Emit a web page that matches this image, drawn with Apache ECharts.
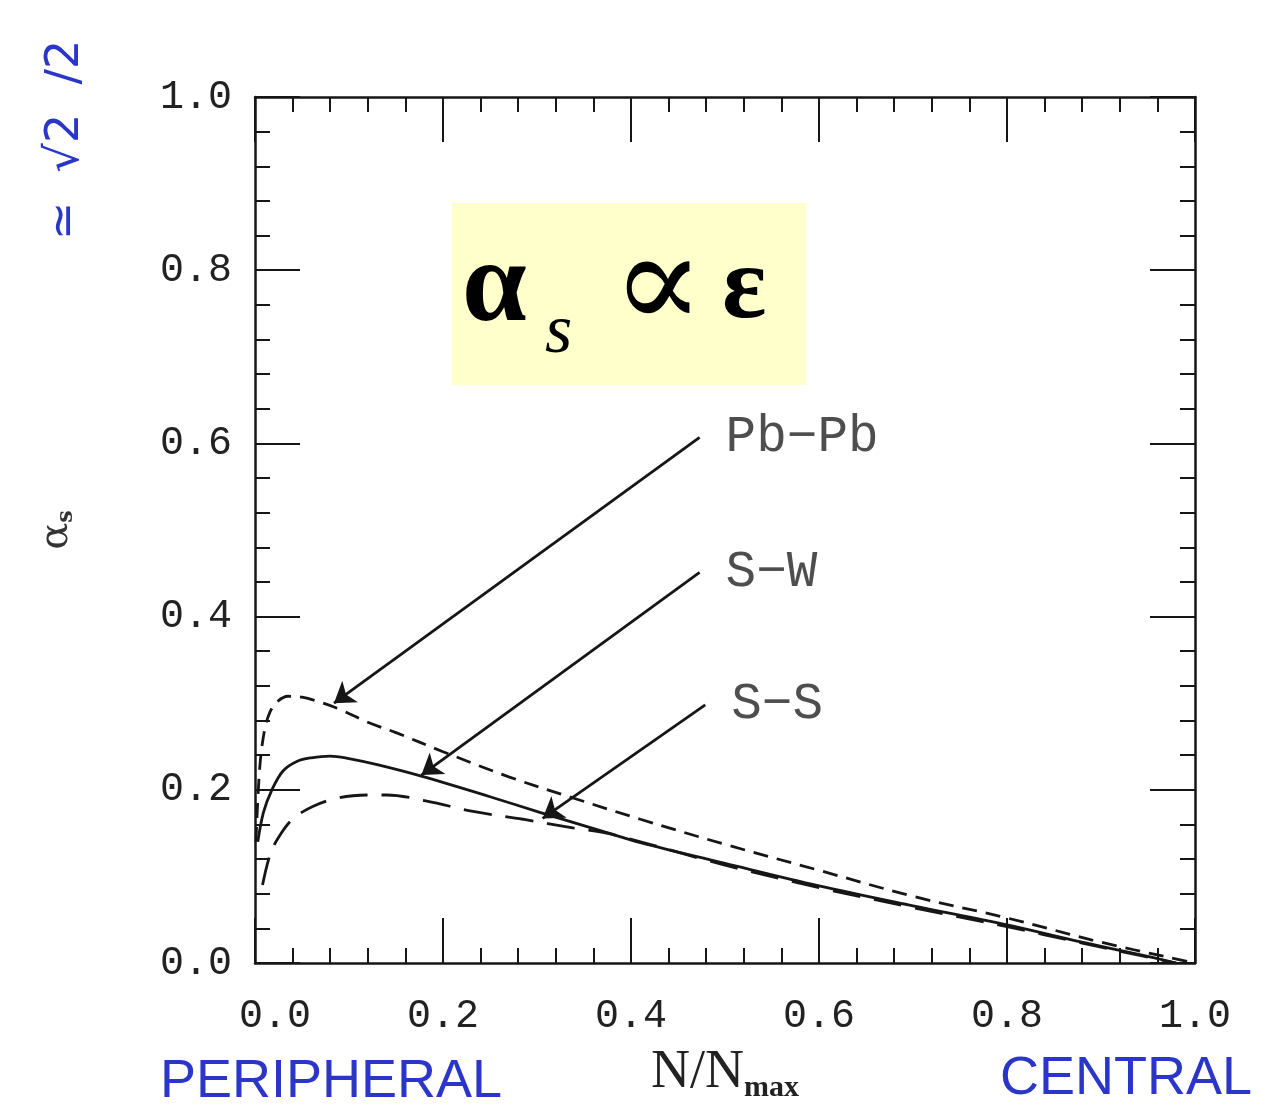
<!DOCTYPE html>
<html>
<head>
<meta charset="utf-8">
<script src="https://cdn.jsdelivr.net/npm/echarts@6/dist/echarts.min.js"></script>
<style>
  html, body { margin: 0; padding: 0; background: #ffffff; }
  #chart { width: 1266px; height: 1109px; }
</style>
</head>
<body>
<div id="chart"></div>
<script>
// Strong coupling alpha_s versus centrality N/N_max for three collision systems.

// Tick labels for both axes
const xTickLabels = ['0.0', '0.2', '0.4', '0.6', '0.8', '1.0'];
const yTickLabels = ['0.0', '0.2', '0.4', '0.6', '0.8', '1.0'];

// Pb-Pb (short dashes)
const pbpbX = [0.001, 0.005, 0.010, 0.016, 0.024, 0.035, 0.050, 0.070, 0.090, 0.120, 0.150, 0.200, 0.270, 0.340, 0.410, 0.500, 0.600, 0.700, 0.800, 0.900, 0.970, 1.000];
const pbpbY = [0.140, 0.225, 0.268, 0.290, 0.302, 0.308, 0.307, 0.301, 0.293, 0.278, 0.266, 0.244, 0.215, 0.190, 0.166, 0.137, 0.107, 0.077, 0.052, 0.024, 0.007, 0.000];

// S-W (solid)
const swX = [0.003, 0.009, 0.018, 0.030, 0.045, 0.060, 0.080, 0.100, 0.130, 0.176, 0.250, 0.303, 0.370, 0.410, 0.500, 0.600, 0.700, 0.800, 0.880, 0.940, 0.980];
const swY = [0.140, 0.174, 0.200, 0.222, 0.233, 0.237, 0.239, 0.236, 0.229, 0.216, 0.192, 0.174, 0.152, 0.139, 0.115, 0.089, 0.066, 0.044, 0.024, 0.010, 0.000];

// S-S (long dashes)
const ssX = [0.008, 0.016, 0.025, 0.040, 0.062, 0.090, 0.120, 0.140, 0.183, 0.232, 0.285, 0.338, 0.374, 0.420, 0.500, 0.600, 0.700, 0.800, 0.880, 0.940, 0.980];
const ssY = [0.090, 0.125, 0.145, 0.166, 0.181, 0.191, 0.194, 0.194, 0.187, 0.175, 0.166, 0.156, 0.150, 0.137, 0.113, 0.087, 0.064, 0.042, 0.023, 0.009, 0.000];

// Curve labels and the arrows pointing from each label to its curve
const curveNames = ['Pb\u2212Pb', 'S\u2212W', 'S\u2212S'];
const arrowFrom = [[0.473, 0.607], [0.473, 0.451], [0.479, 0.298]];
const arrowTo   = [[0.084, 0.300], [0.177, 0.217], [0.306, 0.167]];

const ink = '#161616';
const labelInk = '#222222';
const blue = '#2b36c9';
const monoFont = '"Liberation Mono", "DejaVu Sans Mono", monospace';
const serifFont = '"Liberation Serif", "DejaVu Serif", serif';

const zip = (xs, ys) => xs.map((x, i) => [x, ys[i]]);

function frameAxis(position, showLabels, labels, labelMargin) {
  const axis = {
    type: 'value',
    position: position,
    min: 0,
    max: 1,
    interval: 0.2,
    axisLine: { show: true, onZero: false, lineStyle: { color: ink, width: 2.5 } },
    axisTick: { show: true, inside: true, length: 45, lineStyle: { color: ink, width: 2 } },
    minorTick: { show: true, splitNumber: 5, length: 15, lineStyle: { color: ink, width: 2 } },
    splitLine: { show: false },
    minorSplitLine: { show: false },
    axisLabel: { show: false }
  };
  if (showLabels) {
    axis.axisLabel = {
      show: true,
      margin: labelMargin,
      fontFamily: monoFont,
      fontSize: 40,
      color: labelInk,
      formatter: (v, i) => labels[i]
    };
  }
  return axis;
}

const xBottom = frameAxis('bottom', true, xTickLabels, 33);
xBottom.axisLabel.formatter = (v, i) => (i === 0 ? '{z|' + xTickLabels[i] + '}' : xTickLabels[i]);
xBottom.axisLabel.rich = {
  z: { fontFamily: monoFont, fontSize: 40, color: labelInk, padding: [0, 0, 0, 40] }
};
xBottom.name = '{n|N/N}{m|max}';
xBottom.nameLocation = 'middle';
xBottom.nameGap = 80;
xBottom.nameTextStyle = {
  rich: {
    n: { fontFamily: serifFont, fontSize: 54, color: '#222', lineHeight: 60 },
    m: { fontFamily: serifFont, fontSize: 30, fontWeight: 'bold', color: '#222', lineHeight: 26, verticalAlign: 'bottom' }
  }
};

const yLeft = frameAxis('left', true, yTickLabels, 23);
yLeft.name = '{a|\u03b1}{s|s}';
yLeft.nameLocation = 'middle';
yLeft.nameRotate = 90;
yLeft.nameGap = 178;
yLeft.nameTextStyle = {
  rich: {
    a: { fontFamily: '"DejaVu Serif", serif', fontSize: 40, color: '#333', lineHeight: 40 },
    s: { fontFamily: '"DejaVu Serif", serif', fontSize: 22, fontWeight: 'bold', color: '#333', lineHeight: 20, verticalAlign: 'bottom' }
  }
};

const chart = echarts.init(document.getElementById('chart'), null, { renderer: 'canvas' });

const lineCommon = {
  type: 'line',
  xAxisIndex: 0,
  yAxisIndex: 0,
  showSymbol: false,
  symbol: 'none',
  smooth: 0.35,
  silent: true
};

chart.setOption({
  animation: false,
  backgroundColor: '#ffffff',
  grid: { left: 255, right: 71, top: 97, bottom: 146, containLabel: false },
  xAxis: [xBottom, frameAxis('top', false)],
  yAxis: [yLeft, frameAxis('right', false)],
  series: [
    Object.assign({}, lineCommon, {
      name: 'Pb-Pb',
      data: zip(pbpbX, pbpbY),
      lineStyle: { color: ink, width: 2.8, type: [15, 9] }
    }),
    Object.assign({}, lineCommon, {
      name: 'S-W',
      data: zip(swX, swY),
      lineStyle: { color: ink, width: 2.8, type: 'solid' }
    }),
    Object.assign({}, lineCommon, {
      name: 'S-S',
      data: zip(ssX, ssY),
      lineStyle: { color: ink, width: 2.8, type: [28, 14] }
    }),
    {
      type: 'scatter',
      xAxisIndex: 0,
      yAxisIndex: 0,
      silent: true,
      symbolSize: 0,
      data: curveNames.map((n, i) => ({ name: n, value: arrowFrom[i] })),
      label: {
        show: true,
        position: 'right',
        distance: 26,
        formatter: '{b}',
        fontFamily: monoFont,
        fontSize: 51,
        color: labelInk
      },
      markLine: {
        silent: true,
        symbol: ['none', 'arrow'],
        symbolSize: 20,
        lineStyle: { type: 'solid', color: ink, width: 2.8 },
        label: { show: false },
        emphasis: { disabled: true },
        data: arrowFrom.map((f, i) => [{ coord: f }, { coord: arrowTo[i] }])
      }
    }
  ],
  graphic: [
    // highlighted relation box
    { type: 'rect', shape: { x: 452, y: 203, width: 354, height: 182 }, style: { fill: '#ffffcc' }, z: 1 },
    { type: 'text', x: 462, y: 290, z: 2,
      style: { text: '\u03b1', font: 'bold 116px ' + serifFont, fill: '#000',
               align: 'left', verticalAlign: 'middle', textAlign: 'left', textVerticalAlign: 'middle' } },
    { type: 'text', x: 545, y: 334, z: 2,
      style: { text: 's', font: 'italic 70px ' + serifFont, fill: '#000',
               align: 'left', verticalAlign: 'middle', textAlign: 'left', textVerticalAlign: 'middle' } },
    { type: 'text', x: 612, y: 292, z: 2,
      style: { text: '\u221d', font: '136px ' + serifFont, fill: '#000',
               align: 'left', verticalAlign: 'middle', textAlign: 'left', textVerticalAlign: 'middle' } },
    { type: 'text', x: 722, y: 290, z: 2,
      style: { text: '\u03b5', font: 'bold 104px ' + serifFont, fill: '#000',
               align: 'left', verticalAlign: 'middle', textAlign: 'left', textVerticalAlign: 'middle' } },
    // handwritten notes
    { type: 'text', x: 66, y: 140, rotation: Math.PI / 2, z: 2,
      style: { text: '\u2243  \u221a2  /2', font: '46px "DejaVu Sans", sans-serif', fill: blue,
               align: 'center', verticalAlign: 'middle', textAlign: 'center', textVerticalAlign: 'middle' } },
    { type: 'text', x: 160, y: 1082, z: 2,
      style: { text: 'PERIPHERAL', font: '54px "Liberation Sans", sans-serif', fill: blue,
               align: 'left', verticalAlign: 'middle', textAlign: 'left', textVerticalAlign: 'middle' } },
    { type: 'text', x: 1000, y: 1079, z: 2,
      style: { text: 'CENTRAL', font: '54px "Liberation Sans", sans-serif', fill: blue,
               align: 'left', verticalAlign: 'middle', textAlign: 'left', textVerticalAlign: 'middle' } }
  ]
});
</script>
</body>
</html>
